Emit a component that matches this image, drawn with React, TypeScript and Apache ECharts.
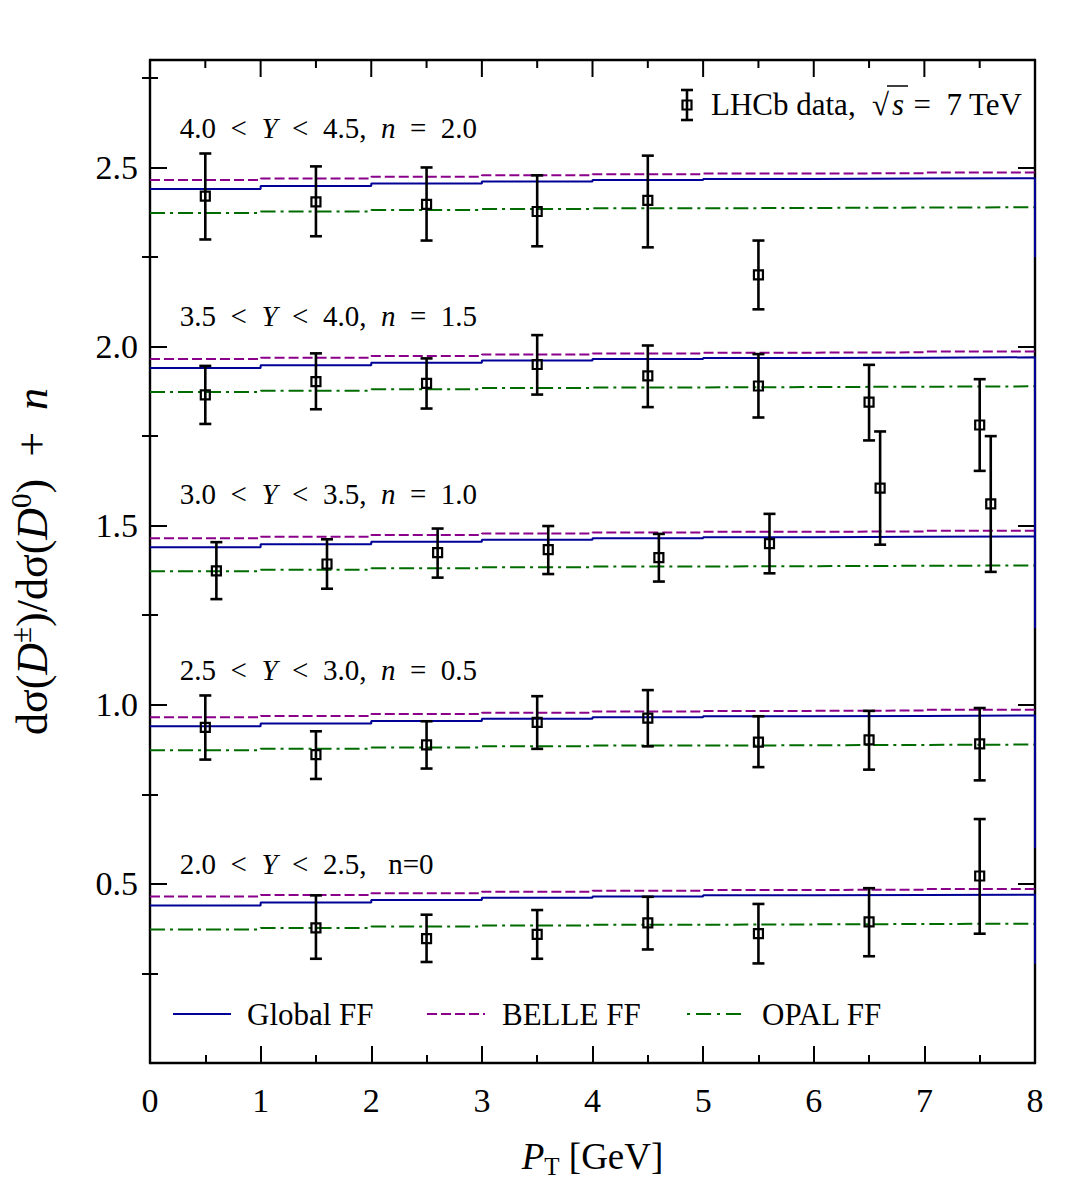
import React, { useEffect, useRef } from "react";
import * as echarts from "echarts";

const FONT = '"Liberation Serif", "Times New Roman", serif';

// p_T bin edges of the theory histograms (GeV)
const binEdges = [0, 1, 2, 3, 4, 5, 6, 7, 8];

// Predicted ratio dσ(D±)/dσ(D0) per p_T bin (before the +n offset)
const globalFF = [0.44, 0.448, 0.455, 0.461, 0.465, 0.468, 0.469, 0.47];
const belleFF = [0.465, 0.469, 0.474, 0.478, 0.481, 0.483, 0.484, 0.486];
const opalFF = [0.373, 0.377, 0.381, 0.384, 0.386, 0.387, 0.388, 0.389];
// Global FF value of the bin beyond 8 GeV (only its edge shows at the frame)
const globalFFBeyond = [0.277, 0.1, 0.214, -0.1, 0.25];

// Rapidity bins and their vertical offsets n
const rapidityLow = [2.0, 2.5, 3.0, 3.5, 4.0];
const rapidityHigh = [2.5, 3.0, 3.5, 4.0, 4.5];
const offsets = [0, 0.5, 1.0, 1.5, 2.0];

// LHCb 7 TeV measurements: p_T, ratio, lower and upper error-bar ends
const ptY20 = [1.5, 2.5, 3.5, 4.5, 5.5, 6.5, 7.5];
const ratioY20 = [0.377, 0.347, 0.359, 0.391, 0.361, 0.394, 0.522];
const lowY20 = [0.291, 0.282, 0.291, 0.317, 0.278, 0.298, 0.361];
const highY20 = [0.468, 0.414, 0.427, 0.464, 0.444, 0.488, 0.681];

const ptY25 = [0.5, 1.5, 2.5, 3.5, 4.5, 5.5, 6.5, 7.5];
const ratioY25 = [0.437, 0.361, 0.388, 0.451, 0.463, 0.396, 0.402, 0.391];
const lowY25 = [0.347, 0.293, 0.322, 0.377, 0.384, 0.326, 0.319, 0.289];
const highY25 = [0.526, 0.426, 0.454, 0.524, 0.541, 0.468, 0.483, 0.491];

const ptY30 = [0.6, 1.6, 2.6, 3.6, 4.6, 5.6, 6.6, 7.6];
const ratioY30 = [0.374, 0.393, 0.425, 0.433, 0.411, 0.45, 0.605, 0.561];
const lowY30 = [0.295, 0.324, 0.355, 0.365, 0.344, 0.367, 0.447, 0.371];
const highY30 = [0.454, 0.462, 0.492, 0.499, 0.477, 0.533, 0.763, 0.75];

const ptY35 = [0.5, 1.5, 2.5, 3.5, 4.5, 5.5, 6.5, 7.5];
const ratioY35 = [0.365, 0.402, 0.397, 0.45, 0.418, 0.39, 0.345, 0.281];
const lowY35 = [0.284, 0.325, 0.327, 0.366, 0.331, 0.302, 0.238, 0.153];
const highY35 = [0.446, 0.481, 0.467, 0.532, 0.503, 0.479, 0.449, 0.409];

const ptY40 = [0.5, 1.5, 2.5, 3.5, 4.5, 5.5];
const ratioY40 = [0.42, 0.404, 0.397, 0.377, 0.408, 0.2];
const lowY40 = [0.299, 0.308, 0.296, 0.28, 0.277, 0.104];
const highY40 = [0.539, 0.503, 0.5, 0.478, 0.533, 0.296];

const measurements = [
  { pt: ptY20, ratio: ratioY20, low: lowY20, high: highY20 },
  { pt: ptY25, ratio: ratioY25, low: lowY25, high: highY25 },
  { pt: ptY30, ratio: ratioY30, low: lowY30, high: highY30 },
  { pt: ptY35, ratio: ratioY35, low: lowY35, high: highY35 },
  { pt: ptY40, ratio: ratioY40, low: lowY40, high: highY40 },
];

// Axis tick values
const xTicks = [0, 1, 2, 3, 4, 5, 6, 7, 8];
const xMinorTicks = [0.5, 1.5, 2.5, 3.5, 4.5, 5.5, 6.5, 7.5];
const yMax = 2.8;
const yMajorTicks = [0.5, 1.0, 1.5, 2.0, 2.5];
const yMinorTicks = [0.25, 0.75, 1.25, 1.75, 2.25, 2.75];

// Layout: where each rapidity label sits above its offset
const labelLift = [0.556, 0.597, 0.588, 0.584, 0.609];
const labelX = 0.27;

const BLUE = "#000096";
const PURPLE = "#8a008a";
const GREEN = "#006c00";

const MAJOR_LEN = 17;
const MINOR_LEN = 8;

const stepPoints = (vals: number[], n: number, beyond?: number) => {
  const pts: number[][] = [];
  vals.forEach((v, i) => {
    pts.push([binEdges[i], v + n], [binEdges[i + 1], v + n]);
  });
  if (beyond !== undefined) pts.push([binEdges[binEdges.length - 1], beyond + n]);
  return pts;
};

const textRich = (size: number) => ({
  r: { fontFamily: FONT, fontSize: size, color: "#000" },
  i: { fontFamily: FONT, fontSize: size, fontStyle: "italic", color: "#000" },
});

const frameLine = { color: "#000", width: 2.4 };
const tickLine = { color: "#000", width: 2 };

const keyGraphics = [
  // data key (top right)
  { type: "line", shape: { x1: 687, y1: 90, x2: 687, y2: 120 }, style: { stroke: "#000", lineWidth: 2.6 } },
  { type: "line", shape: { x1: 681, y1: 90, x2: 693, y2: 90 }, style: { stroke: "#000", lineWidth: 2.6 } },
  { type: "line", shape: { x1: 681, y1: 120, x2: 693, y2: 120 }, style: { stroke: "#000", lineWidth: 2.6 } },
  { type: "rect", shape: { x: 682.5, y: 100.5, width: 9, height: 9 }, style: { fill: "none", stroke: "#000", lineWidth: 2.2 } },
  {
    type: "text",
    x: 711,
    y: 104,
    style: { text: "LHCb data,", font: `31px ${FONT}`, fill: "#000", verticalAlign: "middle", align: "left" },
  },
  {
    type: "text",
    x: 872,
    y: 104,
    style: { text: "√", font: `31px ${FONT}`, fill: "#000", verticalAlign: "middle", align: "left" },
  },
  { type: "line", shape: { x1: 887, y1: 86, x2: 908, y2: 86 }, style: { stroke: "#000", lineWidth: 1.5 } },
  {
    type: "text",
    x: 892,
    y: 104,
    style: { text: "s", font: `italic 31px ${FONT}`, fill: "#000", verticalAlign: "middle", align: "left" },
  },
  {
    type: "text",
    x: 1022,
    y: 104,
    style: { text: "=  7 TeV", font: `31px ${FONT}`, fill: "#000", verticalAlign: "middle", align: "right" },
  },
  // model key (bottom)
  { type: "line", shape: { x1: 173, y1: 1014, x2: 231, y2: 1014 }, style: { stroke: BLUE, lineWidth: 2 } },
  {
    type: "text",
    x: 247,
    y: 1014,
    style: { text: "Global FF", font: `31px ${FONT}`, fill: "#000", verticalAlign: "middle" },
  },
  {
    type: "line",
    shape: { x1: 427, y1: 1014, x2: 485, y2: 1014 },
    style: { stroke: PURPLE, lineWidth: 2, lineDash: [10, 4] },
  },
  {
    type: "text",
    x: 502,
    y: 1014,
    style: { text: "BELLE FF", font: `31px ${FONT}`, fill: "#000", verticalAlign: "middle" },
  },
  {
    type: "line",
    shape: { x1: 687, y1: 1014, x2: 743, y2: 1014 },
    style: { stroke: GREEN, lineWidth: 2, lineDash: [3, 6, 15, 6] },
  },
  {
    type: "text",
    x: 762,
    y: 1014,
    style: { text: "OPAL FF", font: `31px ${FONT}`, fill: "#000", verticalAlign: "middle" },
  },
];

function buildOption() {
  const series: any[] = [];

  offsets.forEach((n, g) => {
    series.push({
      type: "line",
      data: stepPoints(opalFF, n),
      symbol: "none",
      silent: true,
      lineStyle: { color: GREEN, width: 2, type: [15, 5, 3, 5] },
      z: 3,
    });
    series.push({
      type: "line",
      data: stepPoints(belleFF, n),
      symbol: "none",
      silent: true,
      lineStyle: { color: PURPLE, width: 2, type: [10, 4] },
      z: 3,
    });
    series.push({
      type: "line",
      data: stepPoints(globalFF, n, globalFFBeyond[g]),
      symbol: "none",
      silent: true,
      lineStyle: { color: BLUE, width: 2 },
      z: 3,
    });
  });

  // LHCb points with error bars
  const points: number[][] = [];
  measurements.forEach((m, g) => {
    const n = offsets[g];
    m.pt.forEach((x, i) => {
      points.push([x, m.ratio[i] + n, m.low[i] + n, m.high[i] + n]);
    });
  });
  series.push({
    type: "custom",
    data: points,
    encode: { x: 0, y: 1 },
    silent: true,
    z: 5,
    renderItem: (params: any, api: any) => {
      const x = api.value(0);
      const c = api.coord([x, api.value(1)]);
      const lo = api.coord([x, api.value(2)]);
      const hi = api.coord([x, api.value(3)]);
      const cap = 6;
      const half = 4.5;
      const st = { stroke: "#000", lineWidth: 2.6 };
      return {
        type: "group",
        children: [
          { type: "line", shape: { x1: c[0], y1: hi[1], x2: c[0], y2: lo[1] }, style: st },
          { type: "line", shape: { x1: c[0] - cap, y1: hi[1], x2: c[0] + cap, y2: hi[1] }, style: st },
          { type: "line", shape: { x1: c[0] - cap, y1: lo[1], x2: c[0] + cap, y2: lo[1] }, style: st },
          {
            type: "rect",
            shape: { x: c[0] - half, y: c[1] - half, width: 2 * half, height: 2 * half },
            style: { fill: "none", stroke: "#000", lineWidth: 2.2 },
          },
        ],
      };
    },
  });

  // Rapidity-bin labels
  const labelData = offsets.map((n, g) => {
    const lo = rapidityLow[g].toFixed(1);
    const hi = rapidityHigh[g].toFixed(1);
    const tail =
      n === 0 ? "{r|,   n=0}" : `{r|,  }{i|n}{r|  =  ${n.toFixed(1)}}`;
    return {
      value: [labelX, n + labelLift[g]],
      name: `{r|${lo}  <  }{i|Y}{r|  <  ${hi}}${tail}`,
    };
  });
  series.push({
    type: "scatter",
    data: labelData,
    symbolSize: 0,
    silent: true,
    z: 6,
    itemStyle: { opacity: 1 },
    label: {
      show: true,
      position: "right",
      distance: 0,
      color: "#000",
      opacity: 1,
      formatter: "{b}",
      rich: textRich(29),
    },
  });

  const yBase = {
    type: "value",
    min: 0,
    max: yMax,
    splitLine: { show: false },
  };

  const xBase = {
    type: "value",
    min: xTicks[0],
    max: xTicks[xTicks.length - 1],
    interval: 1,
    splitLine: { show: false },
    minorSplitLine: { show: false },
    axisLine: { show: true, onZero: false, lineStyle: frameLine },
  };

  return {
    animation: false,
    backgroundColor: "#fff",
    grid: { left: 150, right: 33, top: 60, bottom: 123, outerBoundsMode: "none", containLabel: false },
    xAxis: [
      {
        ...xBase,
        position: "bottom",
        axisTick: { show: true, inside: true, length: MAJOR_LEN, lineStyle: tickLine },
        minorTick: { show: true, splitNumber: 2, length: MINOR_LEN, lineStyle: tickLine },
        axisLabel: {
          show: true,
          color: "#000",
          fontFamily: FONT,
          fontSize: 34,
          margin: 20,
          showMinLabel: true,
          showMaxLabel: true,
        },
        name: "{i|P}{sub|T}{r| [GeV]}",
        nameLocation: "middle",
        nameGap: 70,
        nameTextStyle: {
          rich: {
            r: { fontFamily: FONT, fontSize: 37, color: "#000", lineHeight: 46 },
            i: { fontFamily: FONT, fontSize: 37, fontStyle: "italic", color: "#000", lineHeight: 46 },
            sub: { fontFamily: FONT, fontSize: 25, color: "#000", lineHeight: 25, verticalAlign: "bottom" },
          },
        },
      },
      {
        ...xBase,
        position: "top",
        axisTick: { show: false },
        minorTick: { show: false },
        axisLabel: { show: false },
      },
    ],
    yAxis: [
      {
        ...yBase,
        position: "left",
        axisLine: { show: true, onZero: false, lineStyle: frameLine },
        axisTick: { show: true, inside: true, length: MAJOR_LEN, customValues: yMajorTicks, lineStyle: tickLine },
        axisLabel: {
          show: true,
          customValues: yMajorTicks,
          formatter: (v: number) => v.toFixed(1),
          color: "#000",
          fontFamily: FONT,
          fontSize: 34,
          margin: 12,
        },
        name: "{r|dσ(}{i|D}{sup|±}{r|)/dσ(}{i|D}{sup|0}{r|)  +  }{i|n}",
        nameLocation: "middle",
        nameRotate: 90,
        nameGap: 92,
        nameTextStyle: {
          rich: {
            r: { fontFamily: FONT, fontSize: 44, color: "#000", lineHeight: 52 },
            i: { fontFamily: FONT, fontSize: 44, fontStyle: "italic", color: "#000", lineHeight: 52 },
            sup: { fontFamily: FONT, fontSize: 29, color: "#000", lineHeight: 29, verticalAlign: "top" },
          },
        },
      },
      {
        ...yBase,
        position: "left",
        axisLine: { show: false },
        axisTick: { show: true, inside: true, length: MINOR_LEN, customValues: yMinorTicks, lineStyle: tickLine },
        axisLabel: { show: false },
      },
      {
        ...yBase,
        position: "right",
        axisLine: { show: true, onZero: false, lineStyle: frameLine },
        axisTick: { show: true, inside: true, length: MAJOR_LEN, customValues: yMajorTicks, lineStyle: tickLine },
        axisLabel: { show: false },
      },
      {
        ...yBase,
        position: "right",
        axisLine: { show: false },
        axisTick: { show: true, inside: true, length: MINOR_LEN, customValues: yMinorTicks, lineStyle: tickLine },
        axisLabel: { show: false },
      },
    ],
    graphic: keyGraphics,
    series,
  };
}

export default function App() {
  const ref = useRef<HTMLDivElement>(null);
  useEffect(() => {
    const chart = echarts.init(ref.current!, null, { renderer: "svg" });
    chart.setOption(buildOption() as any);

    // Inward ticks along the top edge, placed through the x scale
    const finder = { xAxisIndex: 0, yAxisIndex: 0 };
    const topTick = (v: number, len: number) => {
      const p = chart.convertToPixel(finder, [v, yMax]) as number[];
      return {
        type: "line",
        z: 50,
        shape: { x1: p[0], y1: p[1], x2: p[0], y2: p[1] + len },
        style: { stroke: "#000", lineWidth: 2 },
      };
    };
    chart.setOption({
      graphic: [
        ...keyGraphics,
        ...xTicks.map((v) => topTick(v, MAJOR_LEN)),
        ...xMinorTicks.map((v) => topTick(v, MINOR_LEN)),
      ],
    } as any);

    return () => chart.dispose();
  }, []);
  return (
    <div
      ref={ref}
      style={{ position: "absolute", left: 0, top: 0, width: 1068, height: 1186, background: "#fff" }}
    />
  );
}
